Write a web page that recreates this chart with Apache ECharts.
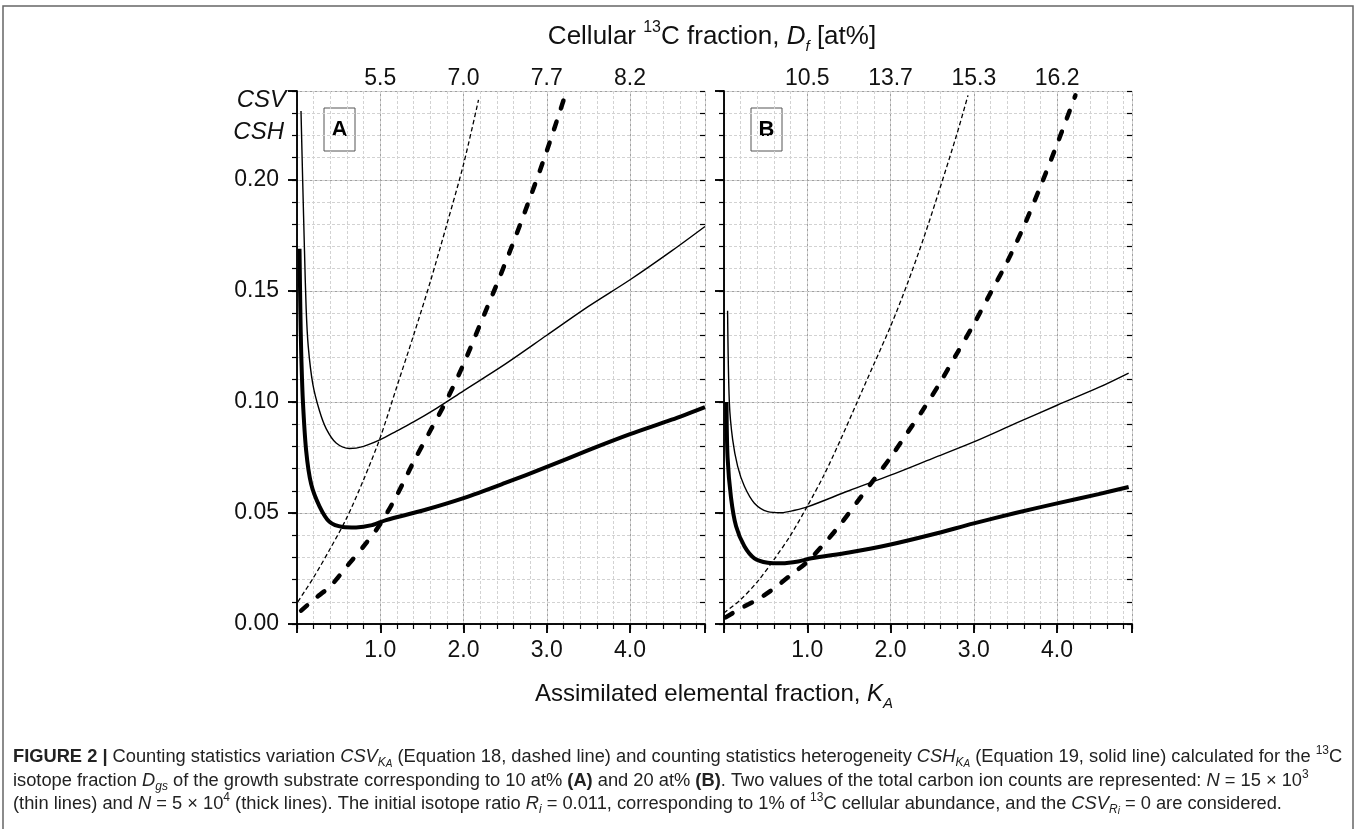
<!DOCTYPE html>
<html>
<head>
<meta charset="utf-8">
<title>FIGURE 2</title>
<script src="https://cdn.jsdelivr.net/npm/echarts@6/dist/echarts.min.js"></script>
<style>
html, body { margin: 0; padding: 0; background: #fff; }
#chart { width: 1357px; height: 829px; }
</style>
</head>
<body>
<div id="chart"></div>
<script>
// 曲线数据 [K_A, 值]，A: 10 at%，B: 20 at%
var csvThinA = [[0.01,0.010],[0.2,0.021],[0.4,0.034],[0.6,0.048],[0.8,0.065],[1.0,0.084],[1.2,0.107],[1.4,0.130],[1.6,0.154],[1.8,0.180],[2.0,0.207],[2.18,0.236]];
var csvThickA = [[0.05,0.006],[0.2,0.011],[0.4,0.017],[0.6,0.026],[0.8,0.035],[1.0,0.045],[1.2,0.058],[1.4,0.073],[1.6,0.087],[1.8,0.101],[2.0,0.117],[2.2,0.135],[2.4,0.153],[2.6,0.172],[2.8,0.192],[3.0,0.213],[3.22,0.238]];
var cshThinA = [[0.048,0.231],[0.068,0.200],[0.09,0.168],[0.11,0.142],[0.135,0.125],[0.19,0.108],[0.27,0.096],[0.35,0.088],[0.47,0.0815],[0.63,0.0790],[0.8,0.0800],[1.0,0.083],[1.2,0.087],[1.4,0.091],[1.67,0.097],[2.0,0.105],[2.5,0.117],[3.0,0.130],[3.5,0.143],[4.0,0.155],[4.5,0.168],[4.9,0.179]];
var cshThickA = [[0.03,0.169],[0.04,0.142],[0.05,0.123],[0.07,0.101],[0.11,0.078],[0.17,0.063],[0.27,0.053],[0.39,0.046],[0.55,0.0437],[0.71,0.0435],[0.9,0.0445],[1.07,0.0468],[1.5,0.051],[2.0,0.0567],[2.5,0.0635],[3.0,0.0707],[3.5,0.0783],[4.0,0.0855],[4.5,0.0920],[4.9,0.0977]];

var csvThinB = [[0.0,0.005],[0.2,0.011],[0.4,0.019],[0.6,0.029],[0.8,0.040],[1.0,0.053],[1.2,0.067],[1.4,0.083],[1.6,0.100],[1.8,0.117],[2.0,0.134],[2.2,0.153],[2.4,0.174],[2.6,0.197],[2.8,0.221],[2.93,0.238]];
var csvThickB = [[0.02,0.003],[0.2,0.007],[0.4,0.011],[0.6,0.016],[0.8,0.022],[1.0,0.028],[1.2,0.036],[1.4,0.045],[1.6,0.055],[1.8,0.065],[2.0,0.075],[2.2,0.086],[2.4,0.097],[2.6,0.109],[2.8,0.122],[3.0,0.135],[3.2,0.149],[3.4,0.163],[3.6,0.179],[3.8,0.197],[4.0,0.216],[4.22,0.238]];
var cshThinB = [[0.043,0.141],[0.064,0.100],[0.104,0.083],[0.164,0.071],[0.245,0.062],[0.365,0.0544],[0.525,0.0506],[0.69,0.0501],[0.85,0.0512],[1.0,0.0527],[1.5,0.060],[2.0,0.067],[2.5,0.0745],[3.0,0.082],[3.5,0.0903],[4.0,0.0985],[4.5,0.1065],[4.86,0.113]];
var cshThickB = [[0.03,0.100],[0.043,0.075],[0.084,0.057],[0.145,0.044],[0.245,0.035],[0.365,0.0296],[0.525,0.0276],[0.69,0.0273],[0.89,0.0281],[1.05,0.0296],[1.5,0.0322],[2.0,0.0358],[2.5,0.0403],[3.0,0.0453],[3.5,0.050],[4.0,0.0543],[4.5,0.0585],[4.86,0.0617]];

// 刻度标签
var bottomTicks = [1, 2, 3, 4];
var topTicksA = ['5.5', '7.0', '7.7', '8.2'];
var topTicksB = ['10.5', '13.7', '15.3', '16.2'];
var leftTicks = ['0.00', '0.05', '0.10', '0.15', '0.20'];

var dom = document.getElementById('chart');
var myChart = echarts.init(dom);
var font = '"Liberation Sans", Arial, sans-serif';
var narrow = '"Liberation Sans Narrow", "Arial Narrow", "Liberation Sans", sans-serif';
var tickSize = 23;

var grids = [
    {left: 297, top: 91, width: 408, height: 533},
    {left: 724, top: 91, width: 408, height: 533}
];
var xAxes = [];
var yAxes = [];

function addAxes(g, topLabels, showLeft) {
    var frame = {show: true, lineStyle: {color: '#000', width: 1.5}};
    // x：主刻度（下）
    xAxes.push({
        gridIndex: g, type: 'value', position: 'bottom', min: 0, max: 4.9, interval: 1,
        axisLine: frame,
        axisTick: {show: true, inside: false, length: 9, lineStyle: {color: '#000', width: 1.5}},
        axisLabel: {
            margin: 15, fontSize: tickSize, fontFamily: font, color: '#111',
            formatter: function (v) { return bottomTicks.indexOf(v) >= 0 ? v.toFixed(1) : ''; }
        },
        splitLine: {show: true, lineStyle: {color: '#a0a0a0', width: 1}}
    });
    // x：次刻度 0.2
    xAxes.push({
        gridIndex: g, type: 'value', position: 'bottom', min: 0, max: 4.9, interval: 0.2,
        axisLine: {show: false},
        axisTick: {show: true, inside: false, length: 5, lineStyle: {color: '#000', width: 1.2}},
        axisLabel: {show: false},
        splitLine: {show: true, lineStyle: {color: '#d2d2d2', width: 1, type: [3, 2]}}
    });
    // x：上方 D_f
    xAxes.push({
        gridIndex: g, type: 'value', position: 'top', min: 0, max: 4.9, interval: 1,
        axisLine: frame,
        axisTick: {show: true, inside: true, length: 9, lineStyle: {color: '#000', width: 1.5}},
        axisLabel: {
            margin: 1, fontSize: tickSize, fontFamily: font, color: '#111',
            formatter: function (v) { var i = bottomTicks.indexOf(v); return i >= 0 ? topLabels[i] : ''; }
        },
        splitLine: {show: false}
    });
    // y：左主刻度
    yAxes.push({
        gridIndex: g, type: 'value', position: 'left', min: 0, max: 0.24, interval: 0.05,
        axisLine: frame,
        axisTick: {show: true, inside: false, length: 9, lineStyle: {color: '#000', width: 1.5}},
        axisLabel: {
            show: showLeft, margin: 18, fontSize: tickSize, fontFamily: font, color: '#111',
            formatter: function (v) { var s = v.toFixed(2); return leftTicks.indexOf(s) >= 0 ? s : ''; }
        },
        splitLine: {show: true, lineStyle: {color: '#a0a0a0', width: 1}}
    });
    // y：左次刻度 0.01
    yAxes.push({
        gridIndex: g, type: 'value', position: 'left', min: 0, max: 0.24, interval: 0.01,
        axisLine: {show: false},
        axisTick: {show: true, inside: false, length: 5, lineStyle: {color: '#000', width: 1.2}},
        axisLabel: {show: false},
        splitLine: {show: true, lineStyle: {color: '#d2d2d2', width: 1, type: [3, 2]}}
    });
    // y：右侧
    yAxes.push({
        gridIndex: g, type: 'value', position: 'right', min: 0, max: 0.24, interval: 0.05,
        axisLine: frame,
        axisTick: {show: true, inside: true, length: 9, lineStyle: {color: '#000', width: 1.5}},
        axisLabel: {show: false},
        splitLine: {show: false}
    });
    yAxes.push({
        gridIndex: g, type: 'value', position: 'right', min: 0, max: 0.24, interval: 0.01,
        axisLine: {show: false},
        axisTick: {show: true, inside: true, length: 5, lineStyle: {color: '#000', width: 1.2}},
        axisLabel: {show: false},
        splitLine: {show: false}
    });
}
addAxes(0, topTicksA, true);
addAxes(1, topTicksB, false);

function curve(name, data, g, width, type, cap) {
    return {
        name: name, type: 'line', xAxisIndex: g * 3, yAxisIndex: g * 4,
        data: data, symbol: 'none', smooth: 0.3, silent: true, z: 5,
        lineStyle: {color: '#000', width: width, type: type, cap: cap || 'butt', join: 'round'}
    };
}

var thinDash = [4.5, 2.8];
var thickDash = [8, 14];

var sub = {fontSize: 15, fontStyle: 'italic', lineHeight: 20, verticalAlign: 'bottom', fontFamily: font};
var sup = {fontSize: 16, lineHeight: 20, verticalAlign: 'top', fontFamily: font};

var capRich = {
    b: {fontWeight: 'bold', fontSize: 18.3, fontFamily: narrow, lineHeight: 24},
    i: {fontStyle: 'italic', fontSize: 18.3, fontFamily: narrow, lineHeight: 24},
    sub: {fontStyle: 'italic', fontSize: 12, fontFamily: narrow, lineHeight: 14, verticalAlign: 'bottom'},
    ss: {fontStyle: 'italic', fontSize: 10, fontFamily: narrow, lineHeight: 10, verticalAlign: 'bottom'},
    sup: {fontSize: 12, fontFamily: narrow, lineHeight: 14, verticalAlign: 'top'}
};
function captionLine(y, text) {
    return {
        type: 'text', x: 13, y: y, z: 10,
        style: {text: text, fontSize: 18.3, fontFamily: narrow, fill: '#222', align: 'left', verticalAlign: 'middle', lineHeight: 24, rich: capRich}
    };
}
function panelLabel(x, letter) {
    return {
        type: 'group', z: 10,
        children: [
            {type: 'rect', shape: {x: x, y: 108, width: 31, height: 43}, style: {fill: '#fff', stroke: '#555', lineWidth: 1}},
            {type: 'text', x: x + 15.5, y: 130, style: {text: letter, fontSize: 22, fontWeight: 'bold', fontFamily: font, fill: '#000', align: 'center', verticalAlign: 'middle'}}
        ]
    };
}

option = {
    animation: false,
    grid: grids,
    xAxis: xAxes,
    yAxis: yAxes,
    series: [
        curve('CSV N=15e3 A', csvThinA, 0, 1.3, thinDash),
        curve('CSV N=5e4 A', csvThickA, 0, 4.5, thickDash, 'round'),
        curve('CSH N=15e3 A', cshThinA, 0, 1.4, 'solid'),
        curve('CSH N=5e4 A', cshThickA, 0, 4, 'solid'),
        curve('CSV N=15e3 B', csvThinB, 1, 1.3, thinDash),
        curve('CSV N=5e4 B', csvThickB, 1, 4.5, thickDash, 'round'),
        curve('CSH N=15e3 B', cshThinB, 1, 1.4, 'solid'),
        curve('CSH N=5e4 B', cshThickB, 1, 4, 'solid')
    ],
    graphic: [
        {type: 'rect', shape: {x: 3, y: 6, width: 1350, height: 840}, style: {fill: 'none', stroke: '#666', lineWidth: 1.5}, z: 1},
        {type: 'text', x: 712, y: 37, z: 10, style: {
            text: 'Cellular {sup|13}C fraction, {it|D}{sub|f} [at%]',
            fontSize: 26, fontFamily: font, fill: '#111', align: 'center', verticalAlign: 'middle', lineHeight: 34,
            rich: {sup: sup, sub: sub, it: {fontStyle: 'italic', fontSize: 26, fontFamily: font, lineHeight: 34}}
        }},
        {type: 'text', x: 714, y: 694, z: 10, style: {
            text: 'Assimilated elemental fraction, {it|K}{sub|A}',
            fontSize: 24, fontFamily: font, fill: '#111', align: 'center', verticalAlign: 'middle', lineHeight: 34,
            rich: {sub: sub, it: {fontStyle: 'italic', fontSize: 24, fontFamily: font, lineHeight: 34}}
        }},
        {type: 'text', x: 286, y: 100, z: 10, style: {text: 'CSV', fontSize: 24, fontStyle: 'italic', fontFamily: font, fill: '#111', align: 'right', verticalAlign: 'middle'}},
        {type: 'text', x: 284, y: 132, z: 10, style: {text: 'CSH', fontSize: 24, fontStyle: 'italic', fontFamily: font, fill: '#111', align: 'right', verticalAlign: 'middle'}},
        panelLabel(324, 'A'),
        panelLabel(751, 'B'),
        captionLine(757, '{b|FIGURE 2 |} Counting statistics variation {i|CSV}{sub|K}{ss|A} (Equation 18, dashed line) and counting statistics heterogeneity {i|CSH}{sub|K}{ss|A} (Equation 19, solid line) calculated for the {sup|13}C'),
        captionLine(781, 'isotope fraction {i|D}{sub|gs} of the growth substrate corresponding to 10 at% {b|(A)} and 20 at% {b|(B)}. Two values of the total carbon ion counts are represented: {i|N} = 15 × 10{sup|3}'),
        captionLine(804, '(thin lines) and {i|N} = 5 × 10{sup|4} (thick lines). The initial isotope ratio {i|R}{sub|i} = 0.011, corresponding to 1% of {sup|13}C cellular abundance, and the {i|CSV}{sub|R}{ss|i} = 0 are considered.')
    ]
};
if (option && typeof option === "object") {
    myChart.setOption(option, true);
}
</script>
</body>
</html>
